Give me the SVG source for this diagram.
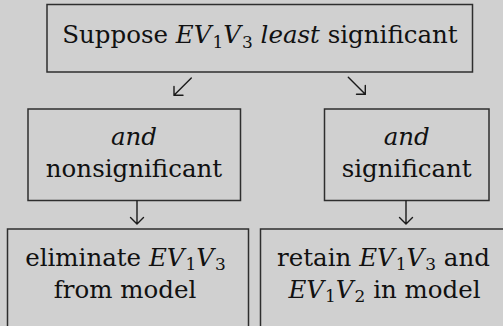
<svg xmlns="http://www.w3.org/2000/svg" width="503" height="326" viewBox="0 0 503 326">
<style>
.bg{fill:#d0d0d0}
.box{fill:#d0d0d0;stroke:#2e2e2e;stroke-width:1.5}
text{font-family:'DejaVu Serif',serif;font-size:24.5px;fill:#111;text-anchor:middle}
.i{font-style:italic}
.s{font-size:17px;font-style:normal}
.c{fill:none;stroke:#1a1a1a;stroke-width:1.4;stroke-linecap:round;stroke-linejoin:miter}
</style>
<rect class="bg" x="0" y="0" width="503" height="326"/>
<g id="n-top">
<rect class="box" x="47" y="4.5" width="425.5" height="67.5"/>
<text x="260" y="43">Suppose <tspan class="i">EV</tspan><tspan class="s" dx="1" dy="5">1</tspan><tspan class="i" dy="-5">V</tspan><tspan class="s" dx="1" dy="5">3</tspan><tspan dy="-5"> </tspan><tspan class="i">least</tspan> significant</text>
</g>
<g id="n-nonsig">
<rect class="box" x="28" y="109" width="212.5" height="91.5"/>
<text class="i" x="134" y="144.5">and</text>
<text x="134" y="177">nonsignificant</text>
</g>
<g id="n-sig">
<rect class="box" x="324.5" y="109" width="164.5" height="91.5"/>
<text class="i" x="406.7" y="144.5">and</text>
<text x="406.7" y="177">significant</text>
</g>
<g id="n-eliminate">
<rect class="box" x="7.5" y="229" width="241" height="110"/>
<text x="125.5" y="265.5">eliminate <tspan class="i">EV</tspan><tspan class="s" dx="1" dy="4.5">1</tspan><tspan class="i" dy="-4.5">V</tspan><tspan class="s" dx="1" dy="4.5">3</tspan></text>
<text x="125" y="297.5">from model</text>
</g>
<g id="n-retain">
<rect class="box" x="260.5" y="229" width="260" height="110"/>
<text x="383.5" y="265.5">retain <tspan class="i">EV</tspan><tspan class="s" dx="1" dy="4.5">1</tspan><tspan class="i" dy="-4.5">V</tspan><tspan class="s" dx="1" dy="4.5">3</tspan><tspan dy="-4.5"> and</tspan></text>
<text x="384.5" y="297.5"><tspan class="i">EV</tspan><tspan class="s" dx="1" dy="4.5">1</tspan><tspan class="i" dy="-4.5">V</tspan><tspan class="s" dx="1" dy="4.5">2</tspan><tspan dy="-4.5"> in model</tspan></text>
</g>
<g id="connectors">
<path class="c" d="M191.3,78 L174,95.3 M174,86.5 L174,95.3 L183,95.3"/>
<path class="c" d="M348.3,77.3 L365.3,94.3 M356.5,94.3 L365.3,94.3 L365.3,85.5"/>
<path class="c" d="M137,201 L137,224 M130.5,217.5 L137,224 L143.5,217.5"/>
<path class="c" d="M406,201 L406,224 M399.5,217.5 L406,224 L412.5,217.5"/>
</g>
</svg>
